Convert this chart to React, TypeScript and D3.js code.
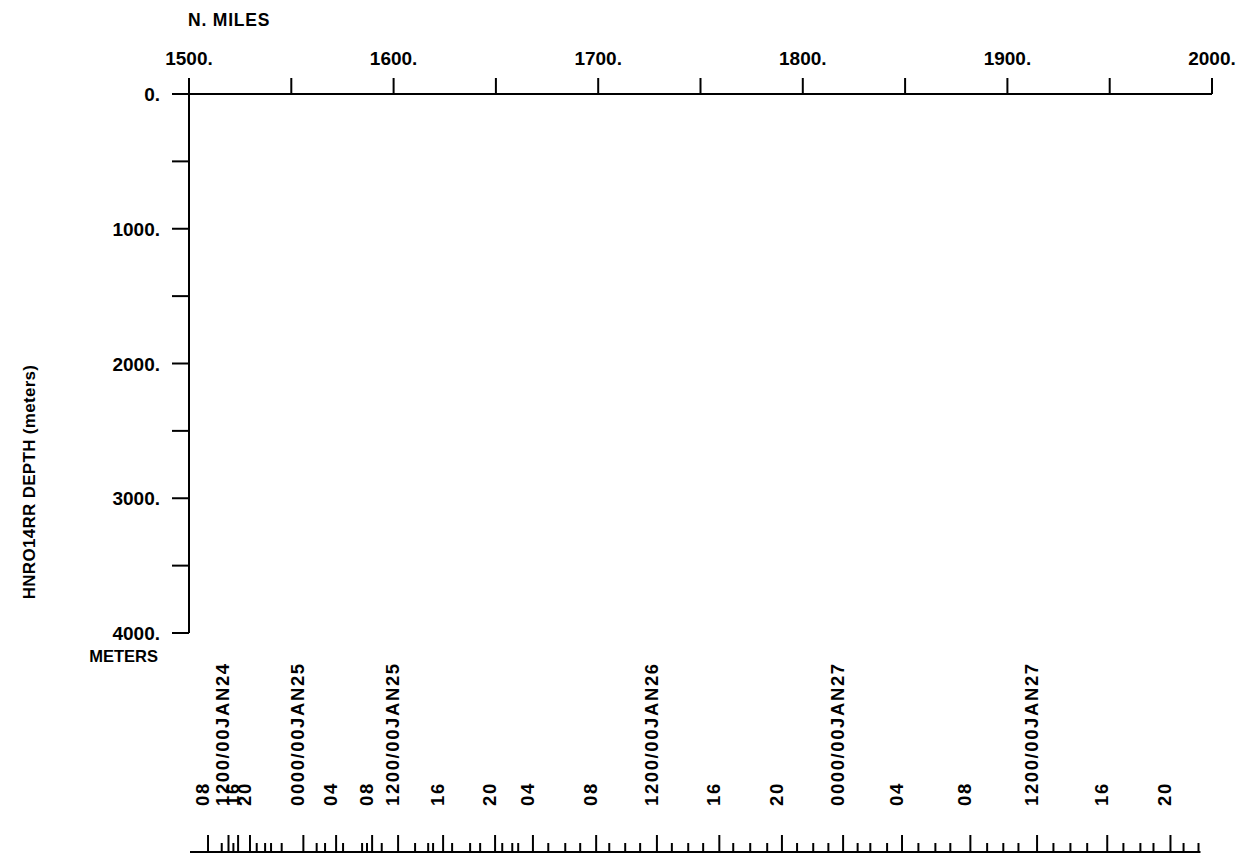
import React from "react";
import * as d3 from "d3";

// ---------- data ----------
const xDomain = [1500, 2000]; // nautical miles
const xTickValues = [1500, 1550, 1600, 1650, 1700, 1750, 1800, 1850, 1900, 1950, 2000];
const xLabelValues = [1500, 1600, 1700, 1800, 1900, 2000];

const yDomain = [0, 4000]; // meters
const yTickValues = [0, 500, 1000, 1500, 2000, 2500, 3000, 3500, 4000];
const yLabelValues = [0, 1000, 2000, 3000, 4000];

// time labels along the track (position in n. miles)
const timeLabels = [
  "08", "1200/00JAN24", "16", "20", "0000/00JAN25", "04", "08", "1200/00JAN25",
  "16", "20", "04", "08", "1200/00JAN26", "16", "20", "0000/00JAN27", "04", "08",
  "1200/00JAN27", "16", "20",
];
const timeLabelMiles = [
  1509.3, 1519.3, 1524.0, 1529.8, 1555.9, 1571.9, 1589.5, 1602.2,
  1624.2, 1649.6, 1668.1, 1699.0, 1728.7, 1759.2, 1789.8, 1819.7, 1848.5, 1881.9,
  1914.5, 1948.8, 1979.7,
];
// hourly ticks (n. miles)
const hourTickMiles = [
  1516.0, 1521.7, 1533.1, 1537.2, 1540.1, 1545.3, 1562.4, 1566.5, 1575.3, 1584.6,
  1587.0, 1594.2, 1610.5, 1616.9, 1619.3, 1628.6, 1637.4, 1642.3, 1653.1, 1658.0,
  1660.9, 1675.6, 1683.9, 1691.2, 1705.4, 1713.2, 1720.5, 1736.0, 1744.0, 1751.3,
  1766.0, 1774.3, 1782.6, 1797.2, 1805.1, 1812.5, 1826.8, 1833.0, 1841.2, 1856.5,
  1864.8, 1872.1, 1890.1, 1898.0, 1905.4, 1922.5, 1930.8, 1939.0, 1956.7, 1965.0,
  1971.4, 1986.1, 1993.4,
];

const xTitle = "N. MILES";
const yTitle = "HNRO14RR DEPTH (meters)";
const yUnit = "METERS";

// ---------- layout ----------
const W = 1248;
const H = 859;
const FONT = "'Liberation Sans', Arial, Helvetica, sans-serif";

export default function App() {
  const x = d3.scaleLinear().domain(xDomain).range([189, 1212]);
  const y = d3.scaleLinear().domain(yDomain).range([94, 633]);
  const fmt = (v: number) => `${v}.`;
  const stripY = 852;
  const allStrip = [...hourTickMiles, ...timeLabelMiles];
  const stripEnd = x(d3.max(allStrip) as number);
  const line = d3.line<[number, number]>();

  return (
    <svg
      width={W}
      height={H}
      style={{ position: "absolute", left: 0, top: 0, background: "#fff" }}
      fontFamily={FONT}
      fontWeight="bold"
    >
      <rect width={W} height={H} fill="#fff" />
      {/* top axis */}
      <text x={188} y={26} fontSize={17.5} letterSpacing={0.8}>{xTitle}</text>
      <path d={line([[x(xDomain[0]), y(0)], [x(xDomain[1]), y(0)]]) || ""} stroke="#000" strokeWidth={2} fill="none" />
      {xTickValues.map((v) => (
        <line key={"xt" + v} x1={x(v)} x2={x(v)} y1={y(0)} y2={y(0) - 16} stroke="#000" strokeWidth={2} />
      ))}
      {xLabelValues.map((v) => (
        <text key={"xl" + v} x={x(v)} y={65} fontSize={19} textAnchor="middle">{fmt(v)}</text>
      ))}

      {/* left axis */}
      <path d={line([[x(xDomain[0]), y(yDomain[0])], [x(xDomain[0]), y(yDomain[1])]]) || ""} stroke="#000" strokeWidth={2} fill="none" />
      {yTickValues.map((v) => (
        <line key={"yt" + v} x1={x(xDomain[0]) - 17} x2={x(xDomain[0])} y1={y(v)} y2={y(v)} stroke="#000" strokeWidth={2} />
      ))}
      {yLabelValues.map((v) => (
        <text key={"yl" + v} x={160} y={y(v) + 7} fontSize={19} textAnchor="end">{fmt(v)}</text>
      ))}
      <text x={158} y={662} fontSize={16.5} textAnchor="end">{yUnit}</text>
      <text
        transform={`translate(35, 482) rotate(-90)`}
        fontSize={17}
        letterSpacing={0.3}
        textAnchor="middle"
      >{yTitle}</text>

      {/* time labels */}
      {timeLabels.map((t, i) => (
        <text
          key={"tl" + i}
          transform={`translate(${x(timeLabelMiles[i]) + 1}, 806) rotate(-90)`}
          fontSize={18.5}
          letterSpacing={1.6}
        >{t}</text>
      ))}

      {/* time tick strip */}
      <path d={line([[x(xDomain[0]) + 1, stripY], [stripEnd + 2, stripY]]) || ""} stroke="#000" strokeWidth={2} fill="none" />
      {hourTickMiles.map((m, i) => (
        <line key={"ht" + i} x1={x(m)} x2={x(m)} y1={stripY} y2={stripY - 9} stroke="#000" strokeWidth={2} />
      ))}
      {timeLabelMiles.map((m, i) => (
        <line key={"lt" + i} x1={x(m)} x2={x(m)} y1={stripY} y2={stripY - 17} stroke="#000" strokeWidth={2} />
      ))}
    </svg>
  );
}
